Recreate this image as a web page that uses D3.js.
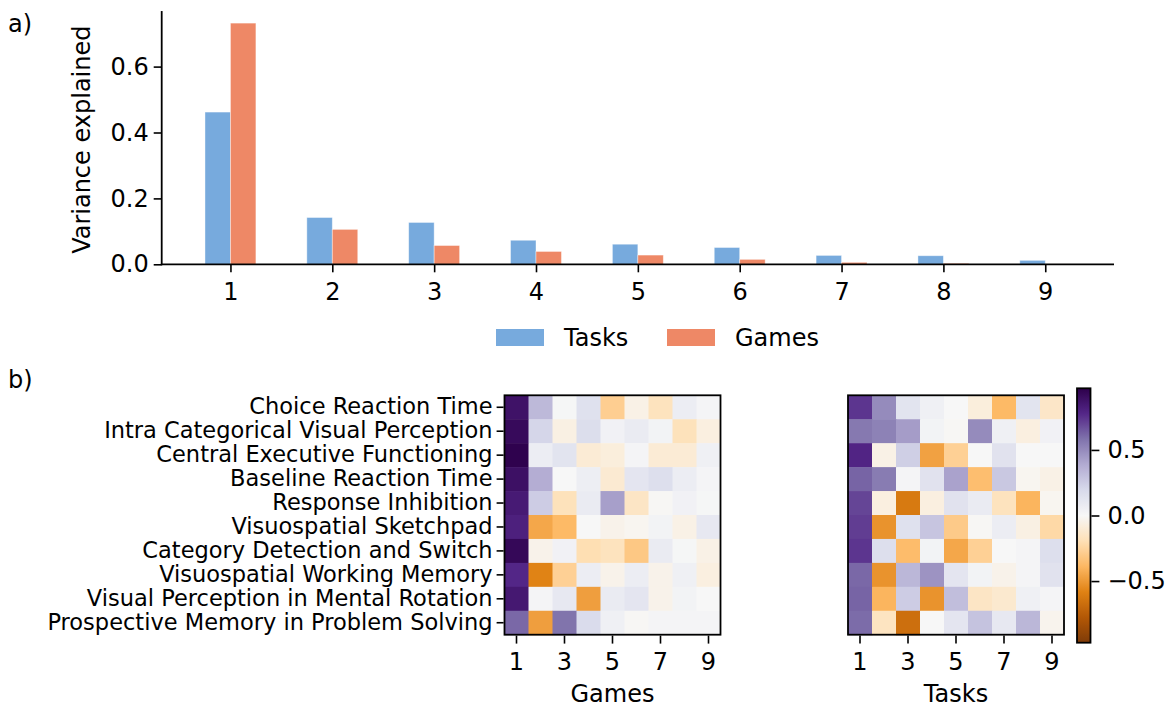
<!DOCTYPE html>
<html>
<head>
<meta charset="utf-8">
<script src="https://cdn.jsdelivr.net/npm/d3@7"></script>
<style>
  html, body { margin: 0; padding: 0; background: #ffffff; }
  svg { display: block; font-family: "DejaVu Sans", sans-serif; }
</style>
</head>
<body>
<svg id="fig" width="1169" height="709"></svg>
<script>
// ---- data ----
const components = [1, 2, 3, 4, 5, 6, 7, 8, 9];
const tasksVariance = [0.462, 0.142, 0.127, 0.073, 0.061, 0.051, 0.027, 0.026, 0.012];
const gamesVariance = [0.732, 0.106, 0.057, 0.039, 0.028, 0.015, 0.006, 0.003, 0.001];
const varianceTicks = [0, 0.2, 0.4, 0.6];

const measures = [
  "Choice Reaction Time",
  "Intra Categorical Visual Perception",
  "Central Executive Functioning",
  "Baseline Reaction Time",
  "Response Inhibition",
  "Visuospatial Sketchpad",
  "Category Detection and Switch",
  "Visuospatial Working Memory",
  "Visual Perception in Mental Rotation",
  "Prospective Memory in Problem Solving"
];

// loadings per measure (rows) on components 1..9 (columns)
const gamesLoadings = [
  [0.88, 0.33, 0.01, 0.15, -0.28, -0.05, -0.17, 0.07, 0.02],
  [0.92, 0.21, -0.06, 0.17, 0.04, 0.08, 0.03, -0.18, -0.07],
  [0.96, 0.07, 0.13, -0.10, -0.08, 0.02, -0.10, -0.10, 0.05],
  [0.89, 0.38, 0.00, 0.06, -0.11, 0.12, 0.16, 0.07, 0.02],
  [0.84, 0.25, -0.18, 0.08, 0.43, -0.15, -0.01, 0.04, 0.01],
  [0.81, -0.45, -0.38, 0.00, -0.04, -0.02, 0.03, -0.05, 0.10],
  [0.93, -0.04, 0.04, -0.20, -0.17, -0.31, 0.08, 0.01, -0.05],
  [0.78, -0.58, -0.27, 0.07, -0.04, 0.07, -0.04, 0.05, -0.07],
  [0.85, 0.02, 0.10, -0.48, 0.08, 0.12, -0.04, 0.03, 0.00],
  [0.61, -0.48, 0.58, 0.18, 0.05, -0.01, 0.02, 0.02, 0.02]
];
const tasksLoadings = [
  [0.74, 0.50, 0.13, 0.05, 0.00, -0.08, -0.38, 0.13, -0.14],
  [0.56, 0.53, 0.44, 0.03, -0.01, 0.50, 0.05, -0.07, 0.04],
  [0.79, -0.05, 0.24, -0.47, -0.27, 0.00, 0.14, 0.00, 0.00],
  [0.62, 0.55, 0.02, 0.14, 0.42, -0.36, 0.27, -0.02, -0.05],
  [0.70, -0.07, -0.62, -0.07, 0.14, 0.08, -0.17, -0.40, -0.02],
  [0.72, -0.52, 0.15, 0.28, -0.30, -0.01, 0.07, -0.06, -0.23],
  [0.74, 0.16, -0.37, 0.03, -0.45, -0.27, 0.00, 0.02, 0.16],
  [0.61, -0.52, 0.34, 0.47, 0.12, 0.03, -0.04, 0.02, 0.14],
  [0.62, -0.40, 0.25, -0.52, 0.31, -0.15, -0.12, 0.05, 0.02],
  [0.60, -0.16, -0.67, 0.00, 0.12, 0.29, 0.10, 0.34, -0.03]
];
const heatTicks = [1, 3, 5, 7, 9];
const colorbarTicks = [-0.5, 0.0, 0.5];
const colorLimit = 0.97;

// PuOr diverging stops, orange (negative) to purple (positive)
const puorStops = ["#7f3b08", "#b35806", "#e08214", "#fdb863", "#fee0b6", "#f7f7f7",
                   "#d8daeb", "#b2abd2", "#8073ac", "#542788", "#2d004b"];

// ---- drawing ----
const svg = d3.select("#fig");
const FONT = 24;
const ROW_FONT = 22.5;
const TICK = 8;
const SPINE = 1.8;
const taskColor = "#77aadd";
const gameColor = "#ee8866";

const color = d3.scaleLinear()
  .domain(puorStops.map((_, i) => -colorLimit + i * (2 * colorLimit) / (puorStops.length - 1)))
  .range(puorStops)
  .interpolate(d3.interpolateRgb)
  .clamp(true);

function styleAxis(g, fontSize) {
  g.selectAll(".domain").remove();
  g.selectAll(".tick line").attr("stroke", "#000").attr("stroke-width", 1.6);
  g.selectAll(".tick text").attr("fill", "#000").style("font-size", fontSize + "px")
    .style("font-family", "DejaVu Sans, sans-serif");
}

// panel labels
svg.append("text").attr("x", 8).attr("y", 32).style("font-size", FONT + "px").text("a)");
svg.append("text").attr("x", 8).attr("y", 388).style("font-size", FONT + "px").text("b)");

// ---- panel a: variance explained ----
const barX = d3.scaleLinear().domain([0.325, 9.675]).range([161.7, 1114]);
const barYMax = d3.max(gamesVariance.concat(tasksVariance)) * 1.05;
const barY = d3.scaleLinear().domain([0, barYMax]).range([264.3, 264.3 - barYMax * 329.5]);
const barWidth = 0.25;

const barG = svg.append("g");
barG.selectAll("rect.task").data(components).join("rect")
  .attr("class", "task")
  .attr("x", (d) => barX(d - barWidth))
  .attr("width", barX(barWidth) - barX(0))
  .attr("y", (d, i) => barY(tasksVariance[i]))
  .attr("height", (d, i) => barY(0) - barY(tasksVariance[i]))
  .attr("fill", taskColor)
  .attr("stroke", "#ffffff").attr("stroke-opacity", 0.5).attr("stroke-width", 0.8);
barG.selectAll("rect.game").data(components).join("rect")
  .attr("class", "game")
  .attr("x", (d) => barX(d))
  .attr("width", barX(barWidth) - barX(0))
  .attr("y", (d, i) => barY(gamesVariance[i]))
  .attr("height", (d, i) => barY(0) - barY(gamesVariance[i]))
  .attr("fill", gameColor)
  .attr("stroke", "#ffffff").attr("stroke-opacity", 0.5).attr("stroke-width", 0.8);

const barXAxis = svg.append("g").attr("transform", `translate(0,${barY(0)})`)
  .call(d3.axisBottom(barX).tickValues(components).tickFormat(d3.format("d"))
    .tickSize(TICK).tickPadding(11));
styleAxis(barXAxis, FONT);
const barYAxis = svg.append("g").attr("transform", `translate(${barX.range()[0]},0)`)
  .call(d3.axisLeft(barY).tickValues(varianceTicks).tickFormat(d3.format(".1f"))
    .tickSize(TICK).tickPadding(5));
styleAxis(barYAxis, FONT);

// spines: left and bottom
svg.append("line").attr("x1", barX.range()[0]).attr("x2", barX.range()[0])
  .attr("y1", barY.range()[1]).attr("y2", barY(0) + SPINE / 2)
  .attr("stroke", "#000").attr("stroke-width", SPINE);
svg.append("line").attr("x1", barX.range()[0] - SPINE / 2).attr("x2", barX.range()[1])
  .attr("y1", barY(0)).attr("y2", barY(0))
  .attr("stroke", "#000").attr("stroke-width", SPINE);

svg.append("text")
  .attr("transform", `translate(90,${(barY.range()[0] + barY.range()[1]) / 2 + 2}) rotate(-90)`)
  .attr("text-anchor", "middle")
  .style("font-size", FONT + "px")
  .text("Variance explained");

// legend
const legend = [
  { name: "Tasks", color: taskColor, x: 496 },
  { name: "Games", color: gameColor, x: 667 }
];
const legG = svg.append("g");
legG.selectAll("rect").data(legend).join("rect")
  .attr("x", (d) => d.x).attr("y", 329).attr("width", 48).attr("height", 17)
  .attr("fill", (d) => d.color);
legG.selectAll("text").data(legend).join("text")
  .attr("x", (d) => d.x + 68).attr("y", 346)
  .style("font-size", FONT + "px")
  .text((d) => d.name);

// ---- panel b: loadings heatmaps ----
function heatmap(x0, label, loadings, showRows) {
  const hx = d3.scaleBand().domain(components).range([x0, x0 + 216]);
  const hy = d3.scaleBand().domain(measures).range([395.3, 634.7]);
  const g = svg.append("g");
  const cells = [];
  loadings.forEach((row, r) => row.forEach((v, c) => cells.push({ m: measures[r], c: components[c], v })));
  g.selectAll("rect.cell").data(cells).join("rect")
    .attr("class", "cell")
    .attr("x", (d) => hx(d.c)).attr("y", (d) => hy(d.m))
    .attr("width", hx.bandwidth() + 0.5).attr("height", hy.bandwidth() + 0.5)
    .attr("fill", (d) => color(d.v));
  g.append("rect")
    .attr("x", x0).attr("y", 395.3).attr("width", 216).attr("height", 239.4)
    .attr("fill", "none").attr("stroke", "#000").attr("stroke-width", SPINE);

  const ax = svg.append("g").attr("transform", `translate(0,${634.7 + SPINE / 2})`)
    .call(d3.axisBottom(hx).tickValues(heatTicks).tickSize(TICK).tickPadding(9));
  styleAxis(ax, FONT);
  if (showRows) {
    const ay = svg.append("g").attr("transform", `translate(${x0 - SPINE / 2},0)`)
      .call(d3.axisLeft(hy).tickSize(TICK - 1).tickPadding(4));
    styleAxis(ay, ROW_FONT);
  }
  svg.append("text")
    .attr("x", x0 + 108).attr("y", 702)
    .attr("text-anchor", "middle")
    .style("font-size", FONT + "px")
    .text(label);
}
heatmap(504.5, "Games", gamesLoadings, true);
heatmap(848, "Tasks", tasksLoadings, false);

// colorbar
const cbTop = 388.3, cbBottom = 642.7, cbLeft = 1077, cbWidth = 13.5;
const cbScale = d3.scaleLinear().domain([-colorLimit, colorLimit]).range([cbBottom, cbTop]);
const defs = svg.append("defs");
const grad = defs.append("linearGradient").attr("id", "cbGrad")
  .attr("x1", 0).attr("y1", 1).attr("x2", 0).attr("y2", 0);
grad.selectAll("stop").data(d3.range(0, 1.0001, 0.02)).join("stop")
  .attr("offset", (t) => t)
  .attr("stop-color", (t) => color(-colorLimit + t * 2 * colorLimit));
svg.append("rect").attr("x", cbLeft).attr("y", cbTop)
  .attr("width", cbWidth).attr("height", cbBottom - cbTop)
  .attr("fill", "url(#cbGrad)").attr("stroke", "#000").attr("stroke-width", SPINE);
const cbAxis = svg.append("g").attr("transform", `translate(${cbLeft + cbWidth + SPINE / 2},0)`)
  .call(d3.axisRight(cbScale).tickValues(colorbarTicks).tickFormat(d3.format(".1f"))
    .tickSize(TICK).tickPadding(8));
styleAxis(cbAxis, FONT);
</script>
</body>
</html>
